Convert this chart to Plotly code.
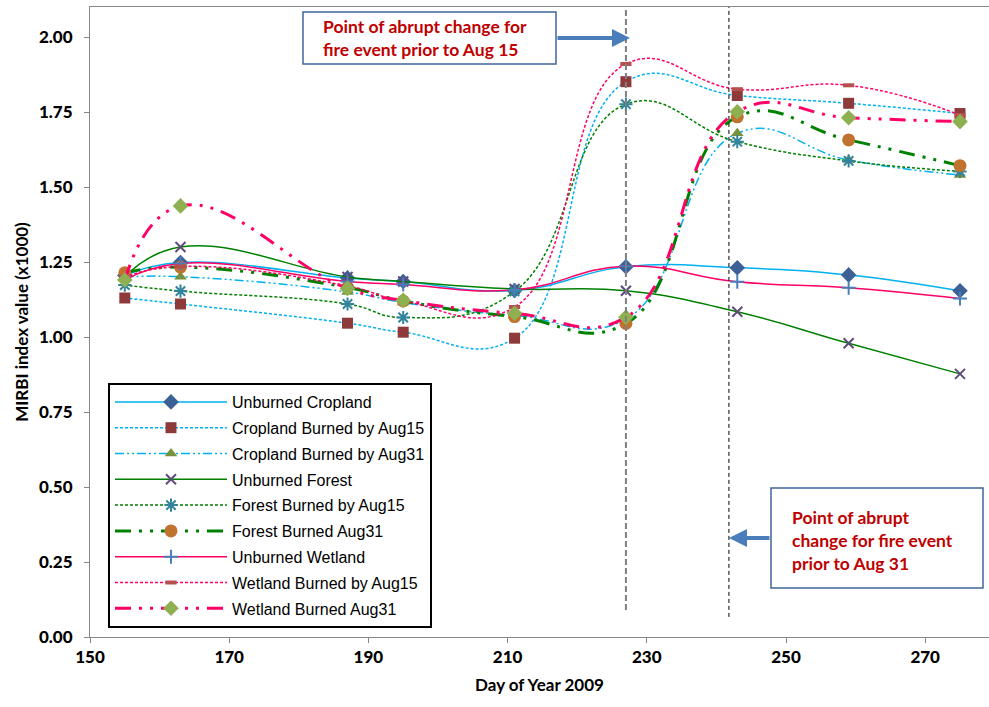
import plotly.graph_objects as go

days = [155, 163, 187, 195, 211, 227, 243, 259, 275]

series_names = [
    "Unburned Cropland",
    "Cropland Burned by Aug15",
    "Cropland Burned by Aug31",
    "Unburned Forest",
    "Forest Burned by Aug15",
    "Forest Burned Aug31",
    "Unburned Wetland",
    "Wetland Burned by Aug15",
    "Wetland Burned Aug31",
]

unburned_cropland = [1.205, 1.248, 1.197, 1.185, 1.155, 1.234, 1.231, 1.207, 1.154]
cropland_aug15    = [1.130, 1.110, 1.046, 1.016, 0.996, 1.851, 1.805, 1.779, 1.745]
cropland_aug31    = [1.200, 1.201, 1.150, 1.115, 1.072, 1.060, 1.679, 1.590, 1.540]
unburned_forest   = [1.200, 1.300, 1.200, 1.185, 1.160, 1.154, 1.084, 0.979, 0.877]
forest_aug15      = [1.173, 1.153, 1.110, 1.065, 1.152, 1.776, 1.651, 1.587, 1.552]
forest_aug31      = [1.214, 1.233, 1.165, 1.120, 1.068, 1.045, 1.734, 1.657, 1.571]
unburned_wetland  = [1.190, 1.245, 1.185, 1.175, 1.157, 1.236, 1.184, 1.164, 1.128]
wetland_aug15     = [1.200, 1.235, 1.170, 1.120, 1.100, 1.910, 1.826, 1.839, 1.740]
wetland_aug31     = [1.190, 1.437, 1.162, 1.122, 1.079, 1.066, 1.751, 1.731, 1.718]

values = [unburned_cropland, cropland_aug15, cropland_aug31,
          unburned_forest, forest_aug15, forest_aug31,
          unburned_wetland, wetland_aug15, wetland_aug31]

x_ticks = [150, 170, 190, 210, 230, 250, 270]
y_ticks = [0.0, 0.25, 0.5, 0.75, 1.0, 1.25, 1.5, 1.75, 2.0]

CYAN = "#00B0F0"
GREEN = "#008000"
PINK = "#FF0066"
dot = "3px,2px"
dashdotdot = "9px,3px,2px,3px,2px,3px"
thick_dd = "16px,8px,3px,8px,3px,8px"

styles = [
    dict(lc=CYAN, dash="solid", w=1.5, sym="diamond", ms=12, mc="#3C6196", open=False),
    dict(lc=CYAN, dash=dot, w=1.5, sym="square", ms=11, mc="#8E3A3A", open=False),
    dict(lc=CYAN, dash=dashdotdot, w=1.5, sym="triangle-up", ms=11, mc="#76923C", open=False),
    dict(lc=GREEN, dash="solid", w=1.5, sym="x-thin-open", ms=10, mc="#5F4A7B", open=True),
    dict(lc=GREEN, dash=dot, w=1.5, sym="asterisk-open", ms=11, mc="#31849B", open=True),
    dict(lc=GREEN, dash=thick_dd, w=3, sym="circle", ms=13, mc="#C0732F", open=False),
    dict(lc=PINK, dash="solid", w=1.5, sym="cross-thin-open", ms=10, mc="#4A7EBB", open=True),
    dict(lc=PINK, dash=dot, w=1.5, sym="line-ew-open", ms=8, mc="#B5504F", open=True),
    dict(lc=PINK, dash=thick_dd, w=3, sym="diamond", ms=12, mc="#8FB050", open=False),
]

fig = go.Figure()
for i, (name, vals, st) in enumerate(zip(series_names, values, styles)):
    if st["open"]:
        lw = 4 if st["sym"].startswith("line") else 2
        marker = dict(symbol=st["sym"], size=st["ms"], color=st["mc"],
                      line=dict(color=st["mc"], width=lw))
    else:
        marker = dict(symbol=st["sym"], size=st["ms"], color=st["mc"],
                      line=dict(width=0))
    fig.add_trace(go.Scatter(
        x=days, y=vals, name=name, mode="lines+markers",
        line=dict(color=st["lc"], dash=st["dash"], width=st["w"],
                  shape="spline", smoothing=1.3),
        marker=marker, legendgroup=f"g{i}",
    ))

# pixel -> paper helpers (plot area: x 90..989, y 7..637)
L, R, T, B = 90, 989, 7, 637
def px(xp):
    return (xp - L) / (R - L)
def py(yp):
    return (B - yp) / (B - T)

shapes = [
    dict(type="line", xref="x", yref="y", x0=227, x1=227, y0=0.09, y1=2.1,
         line=dict(color="#7F7F7F", width=2, dash="6px,3px"), layer="above"),
    dict(type="line", xref="x", yref="y", x0=241.8, x1=241.8, y0=0.067, y1=2.1,
         line=dict(color="#000000", width=1, dash="4px,3px"), layer="above"),
    dict(type="rect", xref="paper", yref="paper", x0=px(303), x1=px(556),
         y0=py(64), y1=py(12), line=dict(color="#41659A", width=1.5),
         fillcolor="white", layer="above"),
    dict(type="rect", xref="paper", yref="paper", x0=px(771), x1=px(983),
         y0=py(588), y1=py(488), line=dict(color="#41659A", width=1.5),
         fillcolor="white", layer="above"),
]

ann_font = dict(family="Lato, Carlito, Calibri, sans-serif", size=17.5, color="#C00000",
                weight="bold")
annotations = [
    dict(xref="paper", yref="paper", x=px(321), y=py(38), xanchor="left", yanchor="middle",
         align="left", showarrow=False, font=ann_font,
         text="Point of abrupt change for<br>fire event prior to Aug 15"),
    dict(xref="paper", yref="paper", x=px(790), y=py(540), xanchor="left", yanchor="middle",
         align="left", showarrow=False, font=ann_font,
         text="Point of abrupt<br>change for fire event<br>prior to Aug 31"),
    dict(xref="paper", yref="paper", x=px(630), y=py(38), ax=-74, ay=0, text="",
         showarrow=True, arrowhead=2, arrowsize=0.9, arrowwidth=4, arrowcolor="#4A7EBB",
         standoff=0, startstandoff=0),
    dict(xref="paper", yref="paper", x=px(729), y=py(538), ax=42, ay=0, text="",
         showarrow=True, arrowhead=2, arrowsize=0.9, arrowwidth=4, arrowcolor="#4A7EBB",
         standoff=0, startstandoff=0),
]

tick_font = dict(family="Lato, Carlito, Calibri, sans-serif", size=17, color="#000000",
                 weight=900)
title_font = dict(family="Lato, Carlito, Calibri, sans-serif", size=17, color="#000000",
                  weight="bold")

fig.update_layout(
    width=989, height=707,
    margin=dict(l=L, r=989 - R, t=T, b=707 - B),
    plot_bgcolor="white", paper_bgcolor="white",
    showlegend=True,
    legend=dict(x=px(108), y=py(383), xanchor="left", yanchor="top",
                bgcolor="white", bordercolor="#000000", borderwidth=2,
                font=dict(family="Liberation Sans, Arial, sans-serif", size=16, color="#000000"),
                traceorder="grouped", tracegroupgap=2, itemwidth=112),
    shapes=shapes, annotations=annotations,
    xaxis=dict(range=[150, 150 + (R - L) / 6.96], tickvals=x_ticks,
               ticks="outside", ticklen=5, tickcolor="#868686",
               showline=True, linecolor="#868686", linewidth=1, mirror=True,
               showgrid=False, zeroline=False,
               tickfont=tick_font,
               title=dict(text="Day of Year 2009", font=title_font, standoff=12)),
    yaxis=dict(range=[0, 2.1], tickvals=y_ticks, tickformat=".2f",
               ticks="outside", ticklen=5, tickcolor="#868686",
               showline=True, linecolor="#868686", linewidth=1,
               showgrid=False, zeroline=False,
               tickfont=tick_font, ticklabelstandoff=8,
               title=dict(text="MIRBI index value (x1000)", font=title_font, standoff=6)),
)

fig.write_html("out.html")
